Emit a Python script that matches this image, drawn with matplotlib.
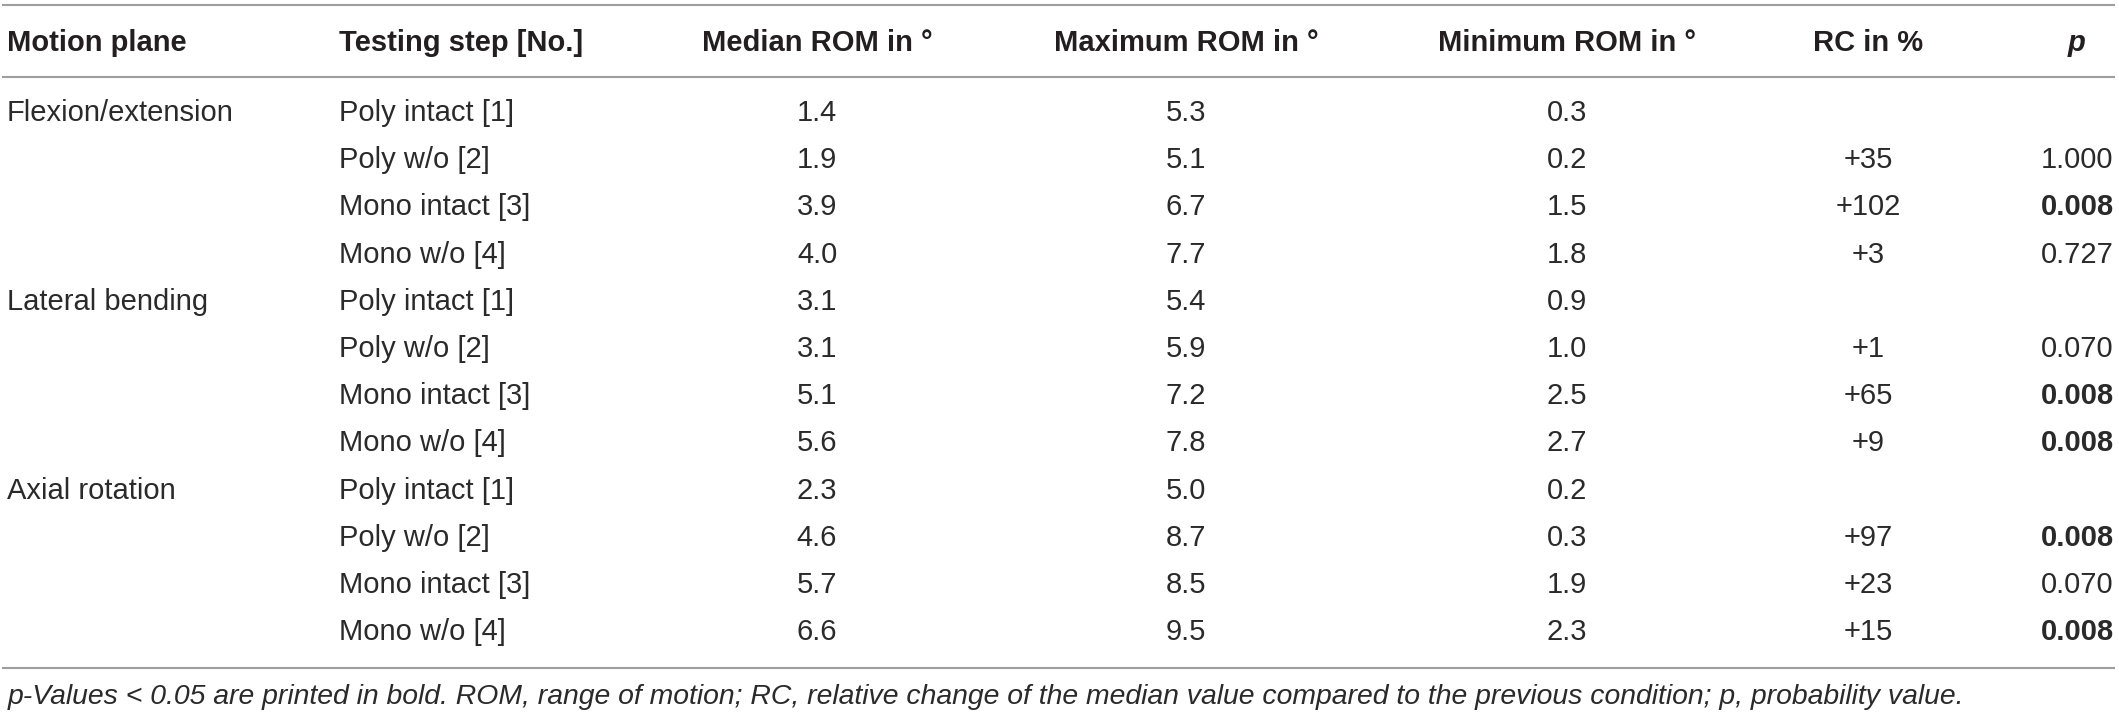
import matplotlib
matplotlib.use("Agg")
import matplotlib.pyplot as plt

headers = ["Motion plane", "Testing step [No.]", "Median ROM in °",
           "Maximum ROM in °", "Minimum ROM in °", "RC in %", "p"]

planes = ["Flexion/extension", "", "", "",
          "Lateral bending", "", "", "",
          "Axial rotation", "", "", ""]
steps = ["Poly intact [1]", "Poly w/o [2]", "Mono intact [3]", "Mono w/o [4]"] * 3
median_rom = ["1.4", "1.9", "3.9", "4.0", "3.1", "3.1", "5.1", "5.6", "2.3", "4.6", "5.7", "6.6"]
max_rom = ["5.3", "5.1", "6.7", "7.7", "5.4", "5.9", "7.2", "7.8", "5.0", "8.7", "8.5", "9.5"]
min_rom = ["0.3", "0.2", "1.5", "1.8", "0.9", "1.0", "2.5", "2.7", "0.2", "0.3", "1.9", "2.3"]
rc = ["", "+35", "+102", "+3", "", "+1", "+65", "+9", "", "+97", "+23", "+15"]
p_vals = ["", "1.000", "0.008", "0.727", "", "0.070", "0.008", "0.008", "", "0.008", "0.070", "0.008"]
p_bold = [False, False, True, False, False, False, True, True, False, True, False, True]

footnote = ("p-Values < 0.05 are printed in bold. ROM, range of motion; RC, relative change "
            "of the median value compared to the previous condition; p, probability value.")

W, H = 2119, 717
fig = plt.figure(figsize=(W / 100, H / 100), dpi=100)
fig.patch.set_facecolor("white")

def fx(x):
    return x / W

def fy(y):
    return 1 - y / H

FONT = "Liberation Sans"
TXT = "#231f20"
FS = 21

# column anchors (pixels) and alignment
col_x = [7, 339, 817, 1186, 1567, 1868, 2077]
col_ha = ["left", "left", "center", "center", "center", "center", "center"]

# rules
for y in (5, 77, 668):
    fig.add_artist(plt.Line2D([fx(3), fx(2114)], [fy(y), fy(y)], color="#9e9e9e",
                              lw=1.5, transform=fig.transFigure))

# header
for i, h in enumerate(headers):
    style = "italic" if h == "p" else "normal"
    fig.text(fx(col_x[i]), fy(43), h, ha=col_ha[i], va="center", fontsize=FS,
             fontweight="bold", fontstyle=style, family=FONT, color=TXT)

# body
row0, dy = 113, 47.2
columns = [planes, steps, median_rom, max_rom, min_rom, rc, p_vals]
for r in range(len(steps)):
    y = fy(row0 + r * dy)
    for c, col in enumerate(columns):
        val = col[r]
        if not val:
            continue
        weight = "bold" if (c == 6 and p_bold[r]) else "light"
        fig.text(fx(col_x[c]), y, val, ha=col_ha[c], va="center", fontsize=FS,
                 fontweight=weight, family=FONT, color="#2a2a2a")

# footnote, scaled to the reference width
t = fig.text(fx(8), fy(697), footnote, ha="left", va="center", fontsize=18,
             fontstyle="italic", family=FONT, color="#2a2a2a")
fig.canvas.draw()
w = t.get_window_extent().width
t.set_fontsize(18 * 1960 / w)

fig.savefig("out.png", dpi=100, facecolor="white")
